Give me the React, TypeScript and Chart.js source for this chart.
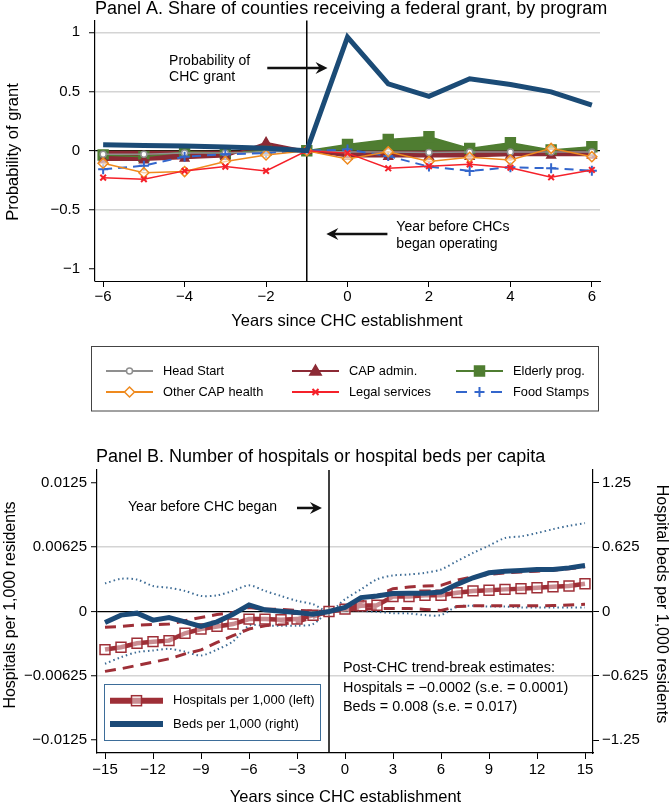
import React, { useEffect, useRef } from "react";
import { Chart, registerables } from "chart.js";

Chart.register(...registerables);

const FONT = "'Liberation Sans', Arial, Helvetica, sans-serif";

// ---------------- Panel A data ----------------
const yearsA = [-6, -5, -4, -3, -2, -1, 0, 1, 2, 3, 4, 5, 6];
const chcGrant = [0.05, 0.045, 0.04, 0.032, 0.022, 0, 0.96, 0.565, 0.46, 0.608, 0.56, 0.497, 0.385];
const headStart = [-0.03, -0.03, -0.02, -0.02, -0.01, 0, -0.01, -0.01, -0.015, -0.01, -0.01, -0.01, -0.01];
const capAdmin = [-0.08, -0.08, -0.065, -0.05, 0.07, 0, -0.05, -0.05, -0.05, -0.05, -0.04, -0.04, -0.04];
const elderlyProg = [-0.036, -0.05, -0.008, -0.022, 0.005, 0, 0.053, 0.095, 0.118, 0.02, 0.067, 0.006, 0.034];
const otherCapHealth = [-0.105, -0.185, -0.176, -0.09, -0.036, 0, -0.07, -0.008, -0.09, -0.055, -0.078, 0.02, -0.05];
const legalServices = [-0.227, -0.24, -0.17, -0.134, -0.17, 0, -0.02, -0.148, -0.13, -0.115, -0.143, -0.224, -0.162];
const foodStamps = [-0.157, -0.126, -0.05, -0.03, -0.02, 0, 0.01, -0.045, -0.134, -0.17, -0.14, -0.148, -0.168];

const xTicksA = [-6, -4, -2, 0, 2, 4, 6];
const xTickLabelsA = ["−6", "−4", "−2", "0", "2", "4", "6"];
const yTicksA = [-1, -0.5, 0, 0.5, 1];
const yTickLabelsA = ["−1", "−0.5", "0", "0.5", "1"];

const notesA = [
  { text: "Probability of", x: -4.38, y: 0.758 },
  { text: "CHC grant", x: -4.38, y: 0.622 },
  { text: "Year before CHCs", x: 1.2, y: -0.644 },
  { text: "began operating", x: 1.2, y: -0.788 },
];
const arrowsA = [
  { x1: -1.97, x2: -0.49, y: 0.698 },
  { x1: 0.98, x2: -0.52, y: -0.704 },
];

// ---------------- Panel B data ----------------
const yearsB = [-15, -14, -13, -12, -11, -10, -9, -8, -7, -6, -5, -4, -3, -2, -1, 0, 1, 2, 3, 4, 5, 6, 7, 8, 9, 10, 11, 12, 13, 14, 15];
const hospitals = [-0.0037, -0.00347, -0.00309, -0.00293, -0.00283, -0.00212, -0.0017, -0.00145, -0.00122, -0.00074, -0.00074, -0.0008, -0.00074, -0.00036, 0,
  0.00023, 0.00055, 0.00061, 0.00145, 0.00145, 0.00158, 0.00158, 0.00183, 0.002, 0.00206, 0.00215, 0.00222, 0.00231, 0.00241, 0.00248, 0.0027];
const hospitalsUpper = [-0.00154, -0.00145, -0.00132, -0.00127, -0.00122, -0.0009, -0.00058, -0.0003, -0.0001, 0.00039, 0.00023, 0.0002, 0.0001, 0.00005, 0,
  0.00039, 0.00087, 0.00151, 0.00222, 0.00238, 0.00248, 0.00254, 0.00306, 0.00338, 0.0036, 0.00376, 0.00383, 0.00392, 0.00402, 0.00415, 0.00434];
const hospitalsLower = [-0.00582, -0.00556, -0.00524, -0.00492, -0.0046, -0.00412, -0.00373, -0.003, -0.00235, -0.0017, -0.00138, -0.00122, -0.00106, -0.00058, 0,
  0.0001, 0.0002, 0.0003, 0.0003, 0.0003, 0.0002, 0.0001, 0.00048, 0.00055, 0.00055, 0.00055, 0.00055, 0.00055, 0.00058, 0.00064, 0.0007];
const beds = [-0.106, -0.035, -0.016, -0.084, -0.058, -0.1, -0.145, -0.1, -0.026, 0.064, 0.016, 0.003, -0.01, -0.026, 0,
  0.039, 0.135, 0.151, 0.174, 0.177, 0.177, 0.19, 0.264, 0.328, 0.376, 0.392, 0.399, 0.408, 0.408, 0.424, 0.447];
const bedsUpper = [0.273, 0.318, 0.31, 0.248, 0.231, 0.2, 0.151, 0.157, 0.2, 0.254, 0.2, 0.151, 0.103, 0.071, 0,
  0.119, 0.215, 0.312, 0.35, 0.36, 0.376, 0.408, 0.489, 0.569, 0.64, 0.714, 0.73, 0.762, 0.8, 0.833, 0.859];
const bedsLower = [-0.508, -0.444, -0.395, -0.379, -0.363, -0.39, -0.428, -0.37, -0.29, -0.138, -0.138, -0.138, -0.138, -0.122, 0,
  0.016, 0.006, -0.003, -0.016, -0.019, -0.035, -0.035, 0.048, 0.055, 0.048, 0.048, 0.039, 0.039, 0.039, 0.039, 0.039];

const xTicksB = [-15, -12, -9, -6, -3, 0, 3, 6, 9, 12, 15];
const xTickLabelsB = ["−15", "−12", "−9", "−6", "−3", "0", "3", "6", "9", "12", "15"];
const yTicksB = [-0.0125, -0.00625, 0, 0.00625, 0.0125];
const yTickLabelsB = ["−0.0125", "−0.00625", "0", "0.00625", "0.0125"];
const y2TicksB = [-1.25, -0.625, 0, 0.625, 1.25];
const y2TickLabelsB = ["−1.25", "−0.625", "0", "0.625", "1.25"];

const notesB = [
  { text: "Year before CHC began", x: -13.56, y: 0.01015 },
  { text: "Post-CHC trend-break estimates:", x: -0.125, y: -0.00549 },
  { text: "Hospitals = −0.0002 (s.e. = 0.0001)", x: -0.125, y: -0.00743 },
  { text: "Beds = 0.008 (s.e. = 0.017)", x: -0.125, y: -0.00928 },
];
const arrowsB = [{ x1: -3.0, x2: -1.44, y: 0.01006 }];

// ---------------- helpers ----------------
const toXY = (xs: number[], ys: number[]) => xs.map((x, i) => ({ x, y: ys[i] }));

function setText(ctx: CanvasRenderingContext2D, size: number, align: CanvasTextAlign = "left") {
  ctx.font = `${size}px ${FONT}`;
  ctx.fillStyle = "#000";
  ctx.textAlign = align;
  ctx.textBaseline = "middle";
}

function drawArrow(ctx: CanvasRenderingContext2D, x1: number, x2: number, y: number) {
  const dir = Math.sign(x2 - x1);
  ctx.save();
  ctx.strokeStyle = "#111";
  ctx.fillStyle = "#111";
  ctx.lineWidth = 2.5;
  ctx.beginPath();
  ctx.moveTo(x1, y);
  ctx.lineTo(x2 - dir * 5, y);
  ctx.stroke();
  ctx.beginPath();
  ctx.moveTo(x2, y);
  ctx.lineTo(x2 - dir * 12, y - 6);
  ctx.lineTo(x2 - dir * 8, y);
  ctx.lineTo(x2 - dir * 12, y + 6);
  ctx.closePath();
  ctx.fill();
  ctx.restore();
}

function drawMarker(ctx: CanvasRenderingContext2D, kind: string, x: number, y: number, r: number, color: string, fill: string, lw: number) {
  ctx.save();
  ctx.strokeStyle = color;
  ctx.fillStyle = fill;
  ctx.lineWidth = lw;
  ctx.beginPath();
  if (kind === "circle") {
    ctx.arc(x, y, r, 0, Math.PI * 2);
    ctx.fill();
    ctx.stroke();
  } else if (kind === "triangle") {
    ctx.moveTo(x, y - r);
    ctx.lineTo(x + r * 0.95, y + r * 0.65);
    ctx.lineTo(x - r * 0.95, y + r * 0.65);
    ctx.closePath();
    ctx.fill();
    ctx.stroke();
  } else if (kind === "square") {
    ctx.rect(x - r, y - r, 2 * r, 2 * r);
    ctx.fill();
    ctx.stroke();
  } else if (kind === "diamond") {
    ctx.moveTo(x, y - r);
    ctx.lineTo(x + r, y);
    ctx.lineTo(x, y + r);
    ctx.lineTo(x - r, y);
    ctx.closePath();
    ctx.fill();
    ctx.stroke();
  } else if (kind === "x") {
    ctx.moveTo(x - r, y - r);
    ctx.lineTo(x + r, y + r);
    ctx.moveTo(x + r, y - r);
    ctx.lineTo(x - r, y + r);
    ctx.stroke();
  } else if (kind === "plus") {
    ctx.moveTo(x - r, y);
    ctx.lineTo(x + r, y);
    ctx.moveTo(x, y - r);
    ctx.lineTo(x, y + r);
    ctx.stroke();
  }
  ctx.restore();
}

const tickLabel = (ticks: number[], labels: string[]) => (v: any) => {
  const i = ticks.findIndex((t) => Math.abs(t - Number(v)) < 1e-9);
  return i >= 0 ? labels[i] : "";
};

const C = {
  chc: "#1b4b76",
  head: "#8f8f8f",
  cap: "#8c2a35",
  eld: "#4f7d31",
  other: "#ef8a1e",
  legal: "#f5212a",
  food: "#3366cc",
  hosp: "#9e2f37",
  beds: "#1b4a77",
  bedsCI: "#3f6d96",
};

// ---------------- Panel A config ----------------
function makeConfigA(): any {
  const W = 671, H = 440;
  const base = { borderWidth: 1.5, tension: 0, fill: false, pointBorderWidth: 1.5 };
  const plugin = {
    id: "panelAExtras",
    beforeDatasetsDraw(chart: any) {
      const { ctx, chartArea, scales } = chart;
      const x = scales.x.getPixelForValue(-1);
      ctx.save();
      ctx.strokeStyle = "#000";
      ctx.lineWidth = 1.5;
      ctx.beginPath();
      ctx.moveTo(x, chartArea.top);
      ctx.lineTo(x, chartArea.bottom);
      ctx.stroke();
      ctx.restore();
    },
    afterDraw(chart: any) {
      const { ctx, scales } = chart;
      ctx.save();
      setText(ctx, 18, "left");
      ctx.fillText("Panel A. Share of counties receiving a federal grant, by program", 95, 9);
      setText(ctx, 16.5, "center");
      ctx.fillText("Years since CHC establishment", 347, 321);
      ctx.save();
      ctx.translate(13, 152);
      ctx.rotate(-Math.PI / 2);
      ctx.fillText("Probability of grant", 0, 0);
      ctx.restore();
      setText(ctx, 14, "left");
      notesA.forEach((n) => ctx.fillText(n.text, scales.x.getPixelForValue(n.x), scales.y.getPixelForValue(n.y)));
      arrowsA.forEach((a) => drawArrow(ctx, scales.x.getPixelForValue(a.x1), scales.x.getPixelForValue(a.x2), scales.y.getPixelForValue(a.y)));
      // legend
      ctx.strokeStyle = "#444";
      ctx.lineWidth = 1;
      ctx.strokeRect(91.5, 346.5, 507, 64.5);
      const cols = [106, 292, 456];
      const rows = [371, 392];
      const items = [
        { label: "Head Start", color: C.head, marker: "circle", r: 3, fill: "#fff", col: 0, row: 0 },
        { label: "CAP admin.", color: C.cap, marker: "triangle", r: 6, fill: C.cap, col: 1, row: 0 },
        { label: "Elderly prog.", color: C.eld, marker: "square", r: 5, fill: C.eld, col: 2, row: 0 },
        { label: "Other CAP health", color: C.other, marker: "diamond", r: 5, fill: "#fff", col: 0, row: 1 },
        { label: "Legal services", color: C.legal, marker: "x", r: 3, fill: C.legal, col: 1, row: 1 },
        { label: "Food Stamps", color: C.food, marker: "plus", r: 5, fill: C.food, col: 2, row: 1 },
      ];
      items.forEach((it) => {
        const x0 = cols[it.col];
        const y = rows[it.row];
        ctx.save();
        ctx.strokeStyle = it.color;
        ctx.lineWidth = 2;
        ctx.beginPath();
        if (it.marker === "plus") {
          ctx.moveTo(x0, y); ctx.lineTo(x0 + 11, y);
          ctx.moveTo(x0 + 35, y); ctx.lineTo(x0 + 46, y);
        } else {
          ctx.moveTo(x0, y);
          ctx.lineTo(x0 + 47, y);
        }
        ctx.stroke();
        ctx.restore();
        drawMarker(ctx, it.marker, x0 + 23.5, y, it.r, it.color, it.fill, it.marker === "plus" || it.marker === "x" ? 2 : 1.5);
        setText(ctx, 12.8, "left");
        ctx.fillText(it.label, x0 + 57, y);
      });
      ctx.restore();
    },
  };

  return {
    type: "line",
    data: {
      datasets: [
        { ...base, label: "CHC", data: toXY(yearsA, chcGrant), borderColor: C.chc, borderWidth: 5, pointRadius: 0, order: 0, borderJoinStyle: "miter" },
        { ...base, label: "Legal services", data: toXY(yearsA, legalServices), borderColor: C.legal, pointStyle: "crossRot", pointRadius: 4, pointBorderColor: C.legal, pointBorderWidth: 2, order: 1 },
        { ...base, label: "Other CAP health", data: toXY(yearsA, otherCapHealth), borderColor: C.other, pointStyle: "rectRot", pointRadius: 5, pointBorderColor: C.other, pointBackgroundColor: "rgba(255,255,255,0.6)", order: 2 },
        { ...base, label: "Food Stamps", data: toXY(yearsA, foodStamps), borderColor: C.food, borderWidth: 2, borderDash: [9, 6], pointStyle: "cross", pointRadius: 5, pointBorderColor: C.food, pointBorderWidth: 2, order: 3 },
        { ...base, label: "Head Start", data: toXY(yearsA, headStart), borderColor: C.head, pointStyle: "circle", pointRadius: 3, pointBorderColor: C.head, pointBackgroundColor: "#fff", order: 4 },
        { ...base, label: "CAP admin.", data: toXY(yearsA, capAdmin), borderColor: C.cap, backgroundColor: C.cap, fill: "origin", pointStyle: "triangle", pointRadius: 5, pointBorderColor: C.cap, pointBackgroundColor: C.cap, order: 5 },
        { ...base, label: "Elderly prog.", data: toXY(yearsA, elderlyProg), borderColor: C.eld, backgroundColor: C.eld, fill: "origin", pointStyle: "rect", pointRadius: 7, pointBorderColor: C.eld, pointBackgroundColor: C.eld, order: 6 },
      ],
    },
    options: {
      responsive: false,
      animation: false,
      devicePixelRatio: 1,
      layout: { padding: { top: 20.5, right: W - 600, left: 0, bottom: 0 } },
      plugins: {
        legend: { display: false },
        tooltip: { enabled: false },
        title: { display: false },
        filler: { drawTime: "beforeDatasetsDraw" },
      },
      scales: {
        x: {
          type: "linear",
          min: -6.2,
          max: 6.2,
          afterFit: (s: any) => { s.height = H - 281; s.paddingLeft = 0; s.paddingRight = 0; },
          afterBuildTicks: (s: any) => { s.ticks = xTicksA.map((v) => ({ value: v })); },
          ticks: { callback: tickLabel(xTicksA, xTickLabelsA), font: { family: FONT, size: 15 }, color: "#000", padding: 1, autoSkip: false, maxRotation: 0 },
          grid: { drawOnChartArea: false, drawTicks: true, tickLength: 6, tickColor: "#000", tickWidth: 1 },
          border: { display: true, color: "#000", width: 1 },
        },
        y: {
          type: "linear",
          min: -1.1,
          max: 1.1,
          afterFit: (s: any) => { s.width = 95; },
          afterBuildTicks: (s: any) => { s.ticks = yTicksA.map((v) => ({ value: v })); },
          ticks: { callback: tickLabel(yTicksA, yTickLabelsA), font: { family: FONT, size: 15 }, color: "#000", padding: 9, autoSkip: false },
          grid: {
            drawOnChartArea: true,
            color: (c: any) => {
              const v = c.tick ? c.tick.value : null;
              if (v === 0) return "#000";
              if (v === -1) return "rgba(0,0,0,0)";
              return "#d4d4d4";
            },
            lineWidth: (c: any) => (c.tick && c.tick.value === 0 ? 1.2 : 1.5),
            tickLength: 6,
            tickColor: "#000",
            tickWidth: 1,
          },
          border: { display: true, color: "#000", width: 1.2 },
        },
      },
    },
    plugins: [plugin],
  };
}

// ---------------- Panel B config ----------------
function makeConfigB(): any {
  const W = 671, H = 375, TOP = 430;
  const plugin = {
    id: "panelBExtras",
    beforeDatasetsDraw(chart: any) {
      const { ctx, chartArea, scales } = chart;
      const x = scales.x.getPixelForValue(-1);
      ctx.save();
      ctx.strokeStyle = "#000";
      ctx.lineWidth = 1.5;
      ctx.beginPath();
      ctx.moveTo(x, chartArea.top);
      ctx.lineTo(x, chartArea.bottom);
      ctx.stroke();
      ctx.restore();
    },
    afterDraw(chart: any) {
      const { ctx, scales } = chart;
      ctx.save();
      setText(ctx, 18, "left");
      ctx.fillText("Panel B. Number of hospitals or hospital beds per capita", 96, 457 - TOP);
      setText(ctx, 16.5, "center");
      ctx.fillText("Years since CHC establishment", 345.5, 797 - TOP);
      setText(ctx, 16, "center");
      ctx.save();
      ctx.translate(11, 605 - TOP);
      ctx.rotate(-Math.PI / 2);
      ctx.fillText("Hospitals per 1,000 residents", 0, 0);
      ctx.restore();
      ctx.save();
      ctx.translate(661, 604 - TOP);
      ctx.rotate(Math.PI / 2);
      ctx.fillText("Hospital beds per 1,000 residents", 0, 0);
      ctx.restore();
      notesB.forEach((n, i) => {
        setText(ctx, i === 0 ? 14 : 14.4, "left");
        ctx.fillText(n.text, scales.x.getPixelForValue(n.x), scales.y.getPixelForValue(n.y));
      });
      arrowsB.forEach((a) => drawArrow(ctx, scales.x.getPixelForValue(a.x1), scales.x.getPixelForValue(a.x2), scales.y.getPixelForValue(a.y)));
      // legend box
      const bx = 104.5, by = 684.5 - TOP, bw = 216, bh = 56;
      ctx.fillStyle = "#fff";
      ctx.fillRect(bx, by, bw, bh);
      ctx.strokeStyle = "#3d6d99";
      ctx.lineWidth = 1;
      ctx.strokeRect(bx, by, bw, bh);
      const r1 = 700.7 - TOP, r2 = 724 - TOP;
      ctx.lineCap = "butt";
      ctx.strokeStyle = C.hosp;
      ctx.lineWidth = 6;
      ctx.beginPath(); ctx.moveTo(110, r1); ctx.lineTo(163, r1); ctx.stroke();
      ctx.fillStyle = "rgba(255,255,255,0.45)";
      ctx.lineWidth = 1.5;
      ctx.fillRect(131.5, r1 - 5, 10, 10);
      ctx.strokeRect(131.5, r1 - 5, 10, 10);
      ctx.strokeStyle = C.beds;
      ctx.lineWidth = 6;
      ctx.beginPath(); ctx.moveTo(110, r2); ctx.lineTo(163, r2); ctx.stroke();
      setText(ctx, 13, "left");
      ctx.fillText("Hospitals per 1,000 (left)", 173, r1);
      ctx.fillText("Beds per 1,000 (right)", 173, r2);
      ctx.restore();
    },
  };

  const tickFont = { family: FONT, size: 15 };
  return {
    type: "line",
    data: {
      datasets: [
        { label: "Beds per 1,000 (right)", data: toXY(yearsB, beds), yAxisID: "y2", borderColor: C.beds, borderWidth: 5, pointRadius: 0, tension: 0, fill: false, order: 0 },
        { label: "Hospitals per 1,000 (left)", data: toXY(yearsB, hospitals), yAxisID: "y", borderColor: C.hosp, borderWidth: 4.5, pointStyle: "rect", pointRadius: 7, pointBorderWidth: 1.5, pointBorderColor: C.hosp, pointBackgroundColor: "rgba(255,255,255,0.45)", tension: 0, fill: false, order: 1 },
        { label: "Hospitals upper", data: toXY(yearsB, hospitalsUpper), yAxisID: "y", borderColor: C.hosp, borderWidth: 3, borderDash: [11, 7], pointRadius: 0, tension: 0, fill: false, order: 2 },
        { label: "Hospitals lower", data: toXY(yearsB, hospitalsLower), yAxisID: "y", borderColor: C.hosp, borderWidth: 3, borderDash: [11, 7], pointRadius: 0, tension: 0, fill: false, order: 2 },
        { label: "Beds upper", data: toXY(yearsB, bedsUpper), yAxisID: "y2", borderColor: C.bedsCI, borderWidth: 2, borderDash: [1.5, 3], pointRadius: 0, tension: 0.3, fill: false, order: 3 },
        { label: "Beds lower", data: toXY(yearsB, bedsLower), yAxisID: "y2", borderColor: C.bedsCI, borderWidth: 2, borderDash: [1.5, 3], pointRadius: 0, tension: 0.3, fill: false, order: 3 },
      ],
    },
    options: {
      responsive: false,
      animation: false,
      devicePixelRatio: 1,
      layout: { padding: { top: 470 - TOP, right: 0, left: 0, bottom: 0 } },
      plugins: {
        legend: { display: false },
        tooltip: { enabled: false },
        title: { display: false },
      },
      scales: {
        x: {
          type: "linear",
          min: -15.5,
          max: 15.5,
          afterFit: (s: any) => { s.height = H - (753 - TOP); s.paddingLeft = 0; s.paddingRight = 0; },
          afterBuildTicks: (s: any) => { s.ticks = xTicksB.map((v) => ({ value: v })); },
          ticks: { callback: tickLabel(xTicksB, xTickLabelsB), font: tickFont, color: "#000", padding: 2, autoSkip: false, maxRotation: 0 },
          grid: { drawOnChartArea: false, drawTicks: true, tickLength: 6, tickColor: "#000", tickWidth: 1 },
          border: { display: true, color: "#000", width: 1.2 },
        },
        y: {
          type: "linear",
          position: "left",
          min: -0.01375,
          max: 0.01375,
          afterFit: (s: any) => { s.width = 97; },
          afterBuildTicks: (s: any) => { s.ticks = yTicksB.map((v) => ({ value: v })); },
          ticks: { callback: tickLabel(yTicksB, yTickLabelsB), font: tickFont, color: "#000", padding: 4, autoSkip: false },
          grid: {
            drawOnChartArea: true,
            color: (c: any) => {
              const v = c.tick ? c.tick.value : null;
              if (v === 0) return "#000";
              if (v === 0.00625 || v === -0.00625) return "#d4d4d4";
              return "rgba(0,0,0,0)";
            },
            lineWidth: (c: any) => (c.tick && c.tick.value === 0 ? 1.2 : 1.5),
            tickLength: 6,
            tickColor: "#000",
            tickWidth: 1,
          },
          border: { display: true, color: "#000", width: 1.2 },
        },
        y2: {
          type: "linear",
          position: "right",
          min: -1.375,
          max: 1.375,
          afterFit: (s: any) => { s.width = W - 593; },
          afterBuildTicks: (s: any) => { s.ticks = y2TicksB.map((v) => ({ value: v })); },
          ticks: { callback: tickLabel(y2TicksB, y2TickLabelsB), font: tickFont, color: "#000", padding: 3, autoSkip: false },
          grid: { drawOnChartArea: false, drawTicks: true, tickLength: 6, tickColor: "#000", tickWidth: 1 },
          border: { display: true, color: "#000", width: 1.2 },
        },
      },
    },
    plugins: [plugin],
  };
}

export default function App() {
  const refA = useRef<HTMLCanvasElement>(null);
  const refB = useRef<HTMLCanvasElement>(null);

  useEffect(() => {
    if (!refA.current || !refB.current) return;
    const a = new Chart(refA.current, makeConfigA());
    const b = new Chart(refB.current, makeConfigB());
    return () => {
      a.destroy();
      b.destroy();
    };
  }, []);

  return (
    <div style={{ position: "absolute", left: 0, top: 0, width: 671, height: 805, background: "#fff", overflow: "hidden" }}>
      <canvas ref={refA} width={671} height={440} style={{ position: "absolute", left: 0, top: 0, width: 671, height: 440 }} />
      <canvas ref={refB} width={671} height={375} style={{ position: "absolute", left: 0, top: 430, width: 671, height: 375 }} />
    </div>
  );
}
